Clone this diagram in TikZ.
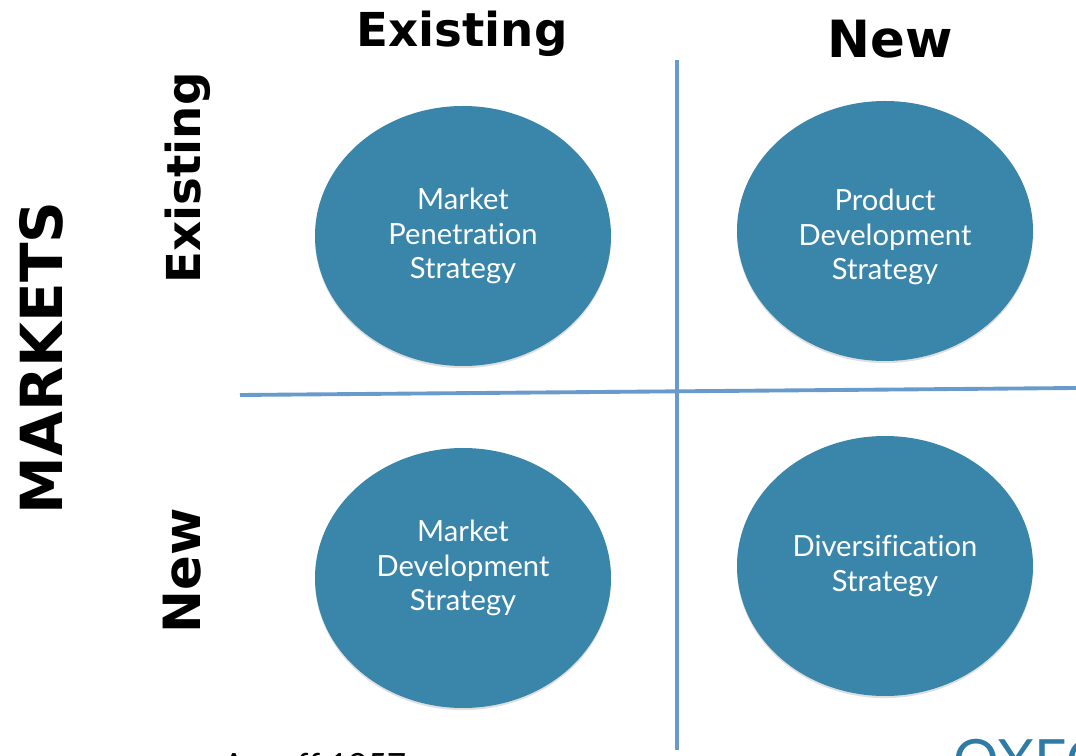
\documentclass[tikz,border=0pt]{standalone}
\usepackage{fontspec}
\setmainfont[Ligatures=NoCommon]{Lato}
\newfontfamily\headfont{DejaVu Sans}
\usetikzlibrary{shapes.geometric,shadows}
\definecolor{circblue}{RGB}{58,133,170}
\definecolor{gridblue}{RGB}{104,154,204}
\definecolor{logoblue}{RGB}{46,123,166}
\begin{document}
\begin{tikzpicture}[
	circ/.style={ellipse, fill=circblue, minimum width=2.96cm, minimum height=2.6cm, inner sep=0pt, drop shadow={opacity=0.25, shadow xshift=0pt, shadow yshift=-0.6pt}},
	circtext/.style={text=white, inner sep=0pt, align=center, font=\fontsize{8.3}{9.7}\selectfont},
	head/.style={font=\headfont\bfseries\fontsize{13.3}{16}\selectfont, inner sep=0pt},
	grid/.style={draw=gridblue, line width=1.1pt}
	]
	\useasboundingbox (0,0) rectangle (10.76,7.56);
	\clip (0,0) rectangle (10.76,7.56);
	% Intestazioni
	\node[head, anchor=base] (hexist) at (4.62,7.09) {Existing};
	\node[head, anchor=base, font=\headfont\bfseries\fontsize{14.6}{17}\selectfont] (hnew) at (8.90,6.98) {New};
	\node[head, anchor=base, rotate=90, font=\headfont\bfseries\fontsize{16.5}{19}\selectfont] (markets) at (0.62,3.98) {MARKETS};
	\node[head, anchor=base, rotate=90] (vexist) at (2.00,5.78) {Existing};
	\node[head, anchor=base, rotate=90, font=\headfont\bfseries\fontsize{14.6}{17}\selectfont] (vnew) at (2.00,1.85) {New};

	% Griglia
	\coordinate (vtop) at (6.77,6.96);
	\coordinate (vbot) at (6.77,0.06);
	\coordinate (hleft) at (2.40,3.61);
	\coordinate (hright) at (10.76,3.68);
	\draw[grid] (vtop) -- (vbot);
	\draw[grid] (hleft) -- (hright);

	% Strategie
	\node[circ] (penetr) at (4.63,5.20) {};
	\node[circ] (proddev) at (8.85,5.25) {};
	\node[circ] (mktdev) at (4.63,1.78) {};
	\node[circ] (divers) at (8.85,1.90) {};
	\node[circtext] (penetrtxt) at (penetr) {Market\\Penetration\\Strategy};
	\node[circtext] (proddevtxt) at ([yshift=-0.06cm]proddev.center) {Product\\Development\\Strategy};
	\node[circtext] (mktdevtxt) at ([yshift=0.10cm]mktdev.center) {Market\\Development\\Strategy};
	\node[circtext] (diverstxt) at (divers) {Diversification\\Strategy};

	% Fonte
	\node[anchor=base west, inner sep=0pt, font=\fontsize{9.5}{11}\selectfont] (source) at (2.22,-0.22) {Ansoff 1957};
	\node[anchor=base west, inner sep=0pt, text=logoblue, font=\fontsize{16.2}{18}\selectfont] (logo) at (9.53,-0.25) {OXFORD};
\end{tikzpicture}
\end{document}
